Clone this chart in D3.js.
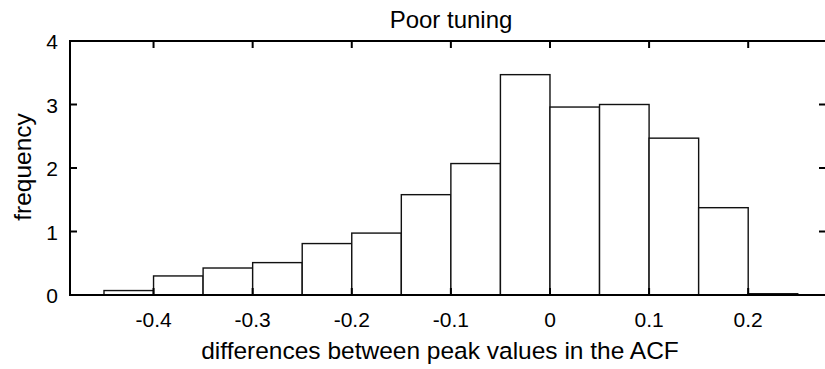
<!DOCTYPE html>
<html><head><meta charset="utf-8">
<script src="https://cdn.jsdelivr.net/npm/d3@7"></script>
<style>body{margin:0;background:#fff}svg{display:block}text{font-family:"Liberation Sans",Arial,sans-serif;fill:#000}</style>
</head><body>
<svg id="c" width="825" height="369"></svg>
<script>
const binStarts = [-0.45,-0.40,-0.35,-0.30,-0.25,-0.20,-0.15,-0.10,-0.05,0.00,0.05,0.10,0.15,0.20];
const frequency = [0.07,0.30,0.425,0.51,0.81,0.975,1.58,2.07,3.47,2.96,3.00,2.47,1.375,0.02];
const binWidth = 0.05;
const xTicks = [-0.4,-0.3,-0.2,-0.1,0,0.1,0.2];
const xTickLabels = ["-0.4","-0.3","-0.2","-0.1","0","0.1","0.2"];
const yTicks = [0,1,2,3,4];
const title = "Poor tuning";
const xLabel = "differences between peak values in the ACF";
const yLabel = "frequency";

const L=70, R=826, T=41, B=295;
const svg = d3.select("#c");
const x = d3.scaleLinear().domain([-0.4843,0.2785]).range([L,R]);
const y = d3.scaleLinear().domain([0,4]).range([B,T]);

svg.append("g").selectAll("rect").data(binStarts).join("rect")
  .attr("x",d=>x(d)).attr("width",d=>x(d+binWidth)-x(d))
  .attr("y",(d,i)=>y(frequency[i])).attr("height",(d,i)=>y(0)-y(frequency[i]))
  .attr("fill","#fff").attr("stroke","#111").attr("stroke-width",1.4);

svg.append("rect").attr("x",L).attr("y",T).attr("width",R-L).attr("height",B-T)
  .attr("fill","none").attr("stroke","#000").attr("stroke-width",2);

const tl = 7;
const g = svg.append("g").attr("stroke","#000").attr("stroke-width",2);
xTicks.forEach(v=>{
  g.append("line").attr("x1",x(v)).attr("x2",x(v)).attr("y1",B).attr("y2",B-tl);
  g.append("line").attr("x1",x(v)).attr("x2",x(v)).attr("y1",T).attr("y2",T+tl);
});
yTicks.forEach(v=>{
  g.append("line").attr("x1",L).attr("x2",L+tl).attr("y1",y(v)).attr("y2",y(v));
  g.append("line").attr("x1",R).attr("x2",R-tl).attr("y1",y(v)).attr("y2",y(v));
});

function txt(px,py,s,size,anchor,rot){
  let tr = `translate(${px},${py})`;
  if(rot) tr += ` rotate(${rot})`;
  svg.append("text").attr("transform",tr).attr("text-anchor",anchor)
    .attr("font-size",size).text(s);
}
xTicks.forEach((v,i)=>txt(x(v),327,xTickLabels[i],21,"middle"));
yTicks.forEach(v=>txt(58,y(v)+8,String(v),21,"end"));
txt(451,28,title,24,"middle");
txt(440,359,xLabel,24.5,"middle");
txt(31,167,yLabel,24.5,"middle",-90);
</script>
</body></html>
